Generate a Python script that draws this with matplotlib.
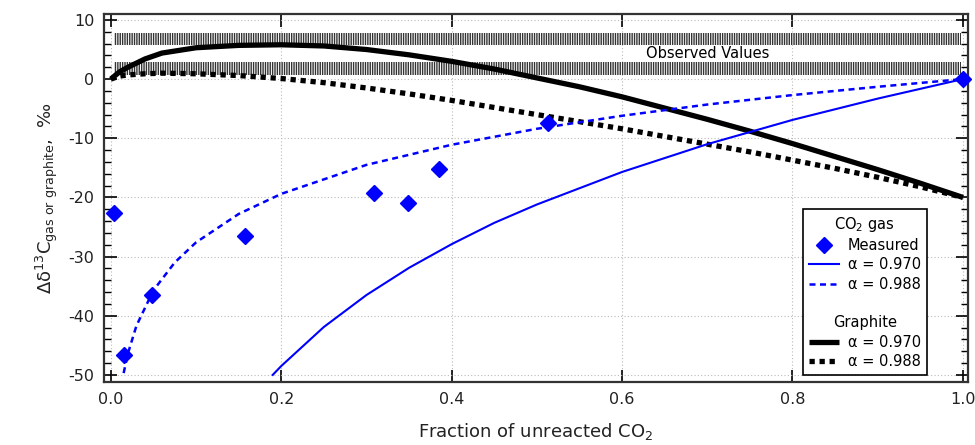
import matplotlib
matplotlib.use("Agg")
import matplotlib.pyplot as plt
from matplotlib.lines import Line2D
from matplotlib.ticker import MultipleLocator, FormatStrFormatter
from matplotlib.transforms import ScaledTranslation

plt.rcParams['font.family'] = ['DejaVu Sans']
plt.rcParams['hatch.linewidth'] = 1.0
plt.rcParams['axes.unicode_minus'] = False

# Measured CO2 gas
meas_f = [0.004, 0.016, 0.048, 0.158, 0.309, 0.349, 0.385, 0.513, 1.0]
meas_d = [-22.7, -46.6, -36.5, -26.5, -19.3, -20.9, -15.2, -7.4, 0.0]

# CO2 gas model curves
gas970_f = [0.19, 0.2, 0.25, 0.3, 0.35, 0.4, 0.45, 0.5, 0.6, 0.7, 0.8, 0.9, 1.0]
gas970_d = [-50.0, -48.5, -41.9, -36.5, -31.9, -27.9, -24.3, -21.2, -15.7, -11.0, -6.9, -3.3, 0.0]
gas988_f = [0.015, 0.02, 0.03, 0.05, 0.075, 0.1, 0.15, 0.2, 0.3, 0.4, 0.5, 0.6, 0.7, 0.8, 0.9, 1.0]
gas988_d = [-49.7, -46.4, -41.7, -35.7, -31.0, -27.6, -22.8, -19.4, -14.5, -11.1, -8.4, -6.2, -4.3, -2.7, -1.3, 0.0]

# Graphite model curves
gr_f = [0.0, 0.01, 0.02, 0.04, 0.06, 0.1, 0.15, 0.2, 0.25, 0.3, 0.35, 0.4, 0.45, 0.5,
        0.55, 0.6, 0.65, 0.7, 0.75, 0.8, 0.85, 0.9, 0.95, 1.0]
gr970_d = [0.0, 1.2, 2.0, 3.4, 4.4, 5.3, 5.7, 5.8, 5.6, 5.0, 4.1, 3.0, 1.7, 0.2,
           -1.3, -3.0, -4.9, -6.8, -8.8, -10.9, -13.1, -15.3, -17.6, -20.0]
gr988_d = [0.0, 0.5, 0.7, 0.9, 1.0, 0.9, 0.6, 0.1, -0.6, -1.5, -2.5, -3.6, -4.8, -6.0,
           -7.2, -8.4, -9.7, -11.0, -12.3, -13.7, -15.1, -16.6, -18.2, -20.0]

# Observed range bands
obs_upper = (5.7, 7.8)
obs_lower = (0.7, 2.9)
obs_label = "Observed Values"

fig = plt.figure(figsize=(9.75, 4.45), dpi=100)
ax = fig.add_axes([0.1067, 0.1416, 0.8861, 0.8269])

for lo, hi in (obs_upper, obs_lower):
    ax.fill_between([0.004, 0.998], lo, hi, facecolor='white', edgecolor='0.2',
                    hatch='|||||||', linewidth=0, zorder=1)
ax.text(0.70, (obs_upper[0] + obs_lower[1]) / 2, obs_label, ha='center', va='center',
        fontsize=10.5, zorder=2)

ax.plot(gr_f, gr970_d, color='black', lw=3.8, solid_capstyle='butt', zorder=3)
ax.plot(gr_f, gr988_d, color='black', lw=3.8, dashes=(1.0, 0.9), zorder=3)
ax.plot(gas970_f, gas970_d, color='#0000ff', lw=1.5, zorder=4)
ax.plot(gas988_f, gas988_d, color='#0000ff', lw=1.8, dashes=(2.4, 1.8), zorder=4)
ax.plot(meas_f, meas_d, linestyle='none', marker='D', markersize=8.5, color='#0000ff',
        zorder=5, clip_on=False)

ax.set_xlim(-0.008, 1.006)
ax.set_ylim(-51.2, 11.0)
ax.xaxis.set_major_locator(MultipleLocator(0.2))
ax.yaxis.set_major_locator(MultipleLocator(10))
ax.yaxis.set_minor_locator(MultipleLocator(2))
ax.xaxis.set_major_formatter(FormatStrFormatter('%.1f'))
ax.tick_params(which='both', direction='in', top=True, right=True, labelsize=11.5,
               colors='black', labelcolor='#222222')
ax.tick_params(which='major', length=9, width=1.2, pad=7)
ax.tick_params(which='minor', length=5, width=1.0)
ax.grid(True, which='major', linestyle=(0, (1, 2)), color='#bbbbbb', linewidth=0.8)
ax.set_axisbelow(True)
for s in ax.spines.values():
    s.set_linewidth(1.6)
    s.set_color('#333333')

ax.set_xlabel('Fraction of unreacted CO$_2$', fontsize=13, labelpad=10, color='#222222')
ax.set_ylabel('$\\mathregular{\\Delta\\delta^{13}C_{gas\\ or\\ graphite}}$,  \u2030',
              fontsize=13, labelpad=6, color='#222222')

handles = [
    Line2D([], [], linestyle='none', marker='D', markersize=8.5, color='#0000ff'),
    Line2D([], [], color='#0000ff', lw=1.5),
    Line2D([], [], color='#0000ff', lw=1.8, dashes=(2.4, 1.8)),
    Line2D([], [], linestyle='none'),
    Line2D([], [], linestyle='none'),
    Line2D([], [], color='black', lw=3.8, solid_capstyle='butt'),
    Line2D([], [], color='black', lw=3.8, dashes=(1.0, 0.9)),
]
labels = ['Measured', '\u03b1 = 0.970', '\u03b1 = 0.988', ' ', 'Graphite',
          '\u03b1 = 0.970', '\u03b1 = 0.988']
leg = ax.legend(handles, labels, title='CO$_2$ gas', loc='lower right',
                bbox_to_anchor=(0.9525, 0.019), borderaxespad=0, fontsize=10.5,
                title_fontsize=10.5, frameon=True, fancybox=False, edgecolor='black',
                framealpha=1, handlelength=2.1, handletextpad=0.6, labelspacing=0.3,
                borderpad=0.4)
leg.get_frame().set_linewidth(1.2)
gtxt = leg.get_texts()[4]
gtxt.set_transform(gtxt.get_transform() + ScaledTranslation(-0.15, 0, fig.dpi_scale_trans))

fig.savefig('out.png', dpi=100)
